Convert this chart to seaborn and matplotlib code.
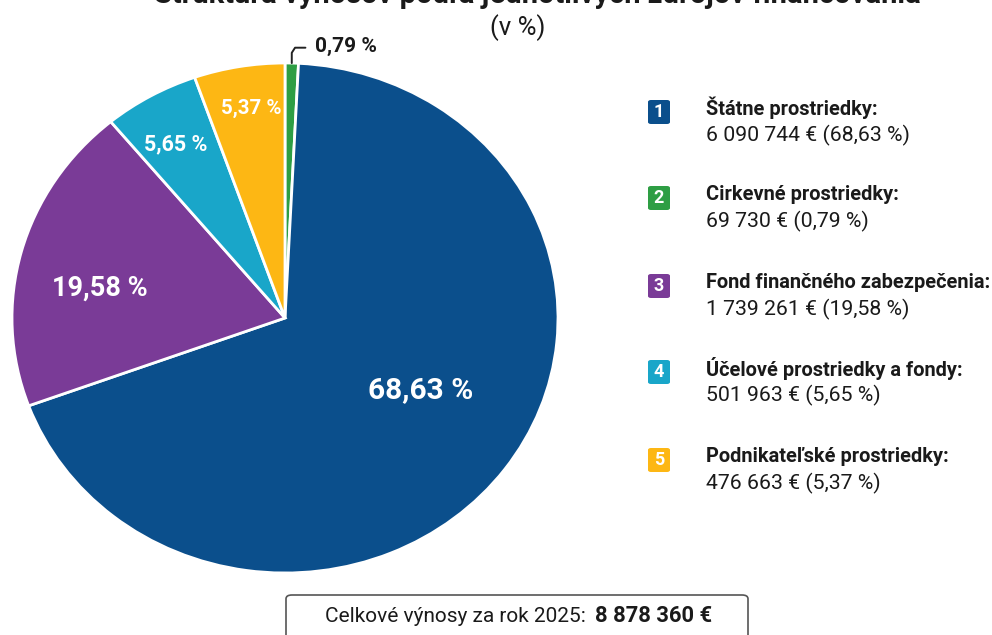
import numpy as np
import matplotlib
matplotlib.use("Agg")
import matplotlib.pyplot as plt
import seaborn as sns
from matplotlib.patches import FancyBboxPatch

# ---- data ----
categories = ["Cirkevné prostriedky", "Štátne prostriedky", "Fond finančného zabezpečenia",
              "Účelové prostriedky a fondy", "Podnikateľské prostriedky"]
shares = [0.79, 68.63, 19.58, 5.65, 5.37]
slice_labels = ["0,79 %", "68,63 %", "19,58 %", "5,65 %", "5,37 %"]
colors = ["#2E9E44", "#0B4F8C", "#7A3B97", "#19A6C9", "#FDB714"]

legend_nums = ["1", "2", "3", "4", "5"]
legend_titles = ["Štátne prostriedky:", "Cirkevné prostriedky:", "Fond finančného zabezpečenia:",
                 "Účelové prostriedky a fondy:", "Podnikateľské prostriedky:"]
legend_values = ["6 090 744 € (68,63 %)", "69 730 € (0,79 %)", "1 739 261 € (19,58 %)",
                 "501 963 € (5,65 %)", "476 663 € (5,37 %)"]
legend_colors = ["#0B4F8C", "#2E9E44", "#7A3B97", "#19A6C9", "#FDB714"]

title_text = "Štruktúra výnosov podľa jednotlivých zdrojov financovania"
subtitle_text = "(v %)"
total_label = "Celkové výnosy za rok 2025:"
total_value = "8 878 360 €"

sns.set_theme(style="white")
plt.rcParams["font.family"] = ["Roboto", "DejaVu Sans"]

W, H = 992, 635
fig = plt.figure(figsize=(W / 100, H / 100), dpi=100)
fig.patch.set_facecolor("white")

def fx(px):
    return px / W

def fy(py):
    return 1 - py / H

# ---- pie ----
left, right, top, bottom = 12, 558, 63, 573
ax = fig.add_axes([fx(left), fy(bottom), fx(right - left), (bottom - top) / H])
wedges, _ = ax.pie(shares, colors=colors, startangle=90, counterclock=False,
                   wedgeprops=dict(edgecolor="white", linewidth=2))
ax.set_aspect("auto")
ax.set_xlim(-1, 1)
ax.set_ylim(-1, 1)
ax.axis("off")

label_r = [None, 0.57, 0.69, 0.79, 0.83]
label_dang = [0, 6.7, 5.2, 1.0, -1.0]
label_size = [15, 21.5, 19.5, 15.5, 14.8]
for i, w in enumerate(wedges):
    if label_r[i] is None:
        continue
    mid = np.deg2rad((w.theta1 + w.theta2) / 2 + label_dang[i])
    ax.text(label_r[i] * np.cos(mid), label_r[i] * np.sin(mid), slice_labels[i],
            color="white", fontsize=label_size[i], fontweight="bold",
            ha="center", va="center")

# small slice leader
g = wedges[0]
gmid = np.deg2rad((g.theta1 + g.theta2) / 2)
gx, gy = np.cos(gmid), np.sin(gmid)
ax.plot([gx, gx, gx + 0.012, gx + 0.05], [gy, 1.04, 1.06, 1.06],
        color="#222222", lw=1.4, clip_on=False, solid_capstyle="round")
ax.text(gx + 0.085, 1.065, slice_labels[0], color="#1a1a1a", fontsize=label_size[0],
        fontweight="bold", ha="left", va="center", clip_on=False)

# ---- titles ----
fig.text(fx(537), fy(3), title_text, ha="center", va="baseline",
         fontsize=21, fontweight="bold", color="#1a1a1a")
fig.text(fx(518), fy(28), subtitle_text, ha="center", va="center",
         fontsize=18.5, color="#1a1a1a")

# ---- legend ----
rows = [112, 198, 286, 372, 460]
for i, y in enumerate(rows):
    box = FancyBboxPatch((fx(648), fy(y + 12)), fx(22), 24 / H,
                         boxstyle="round,pad=0,rounding_size=0.003",
                         transform=fig.transFigure, facecolor=legend_colors[i],
                         edgecolor="none")
    fig.add_artist(box)
    fig.text(fx(659), fy(y), legend_nums[i], ha="center", va="center",
             color="white", fontsize=13, fontweight="bold")
    fig.text(fx(706), fy(y - 4), legend_titles[i], ha="left", va="center",
             fontsize=14.4, fontweight="bold", color="#1a1a1a")
    fig.text(fx(706), fy(y + 23), legend_values[i], ha="left", va="center",
             fontsize=15.3, color="#1a1a1a")

# ---- total box ----
tb = FancyBboxPatch((fx(286), fy(645)), fx(462), 50 / H,
                    boxstyle="round,pad=0,rounding_size=0.006",
                    transform=fig.transFigure, facecolor="white",
                    edgecolor="#555555", linewidth=1.2)
fig.add_artist(tb)
fig.text(fx(586), fy(617), total_label, ha="right", va="center",
         fontsize=15, color="#1a1a1a")
fig.text(fx(595), fy(616), total_value, ha="left", va="center",
         fontsize=15.8, fontweight="bold", color="#1a1a1a")

fig.savefig("out.png", dpi=100, facecolor="white")
